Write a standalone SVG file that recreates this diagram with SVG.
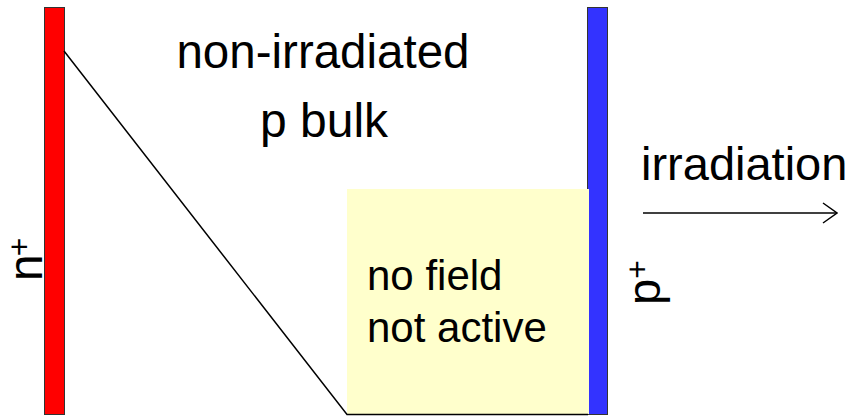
<svg xmlns="http://www.w3.org/2000/svg" width="853" height="417" viewBox="0 0 853 417">
<style>
text{font-family:"Liberation Sans",Arial,sans-serif;fill:#000}
.bar{stroke:#333;stroke-width:1}
.ln{stroke:#000;stroke-width:1.5;fill:none}
</style>
<defs>
<marker id="chev" viewBox="0 0 16 22" refX="15" refY="11" markerWidth="16" markerHeight="22" markerUnits="userSpaceOnUse" orient="auto">
<path d="M1,1 L15,11 L1,21" fill="none" stroke="#000" stroke-width="1.5"/>
</marker>
</defs>
<rect width="853" height="417" fill="#fff"/>
<g id="n-contact">
<rect class="bar" x="44.5" y="7.5" width="20" height="407" fill="#ff0000"/>
<text transform="translate(42,281) rotate(-90)" font-size="48">n<tspan font-size="32" dx="-2" dy="-12">+</tspan></text>
</g>
<g id="p-contact">
<rect class="bar" x="587.5" y="7.5" width="20" height="407" fill="#3333ff"/>
<text transform="translate(659.5,305) rotate(-90)" font-size="47">p<tspan font-size="32" dy="-12">+</tspan></text>
</g>
<g id="no-field-region">
<rect x="347" y="189" width="242" height="225" fill="#ffffcc"/>
<text x="367" y="290" font-size="42">no field</text>
<text x="367" y="342" font-size="42">not active</text>
</g>
<g id="bulk-label">
<text x="323" y="68" font-size="47.5" text-anchor="middle">non-irradiated</text>
<text x="324" y="137" font-size="48" text-anchor="middle">p bulk</text>
</g>
<g id="irradiation-label">
<text x="641" y="180" font-size="47">irradiation</text>
</g>
<g id="connectors">
<polyline class="ln" points="64,51 347,414.5 588,414.5"/>
<line class="ln" x1="643" y1="213" x2="837" y2="213" marker-end="url(#chev)"/>
</g>
</svg>
